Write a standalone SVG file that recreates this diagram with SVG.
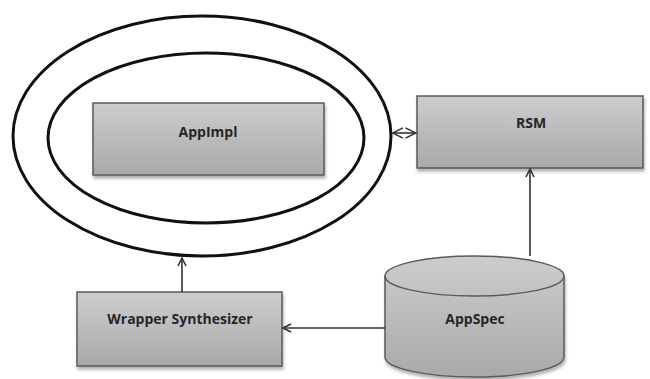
<svg xmlns="http://www.w3.org/2000/svg" width="650" height="379" viewBox="0 0 650 379">
<defs>
<linearGradient id="g" x1="0" y1="0" x2="0" y2="1">
<stop offset="0" stop-color="#cdcdcd"/>
<stop offset="1" stop-color="#a9a9a9"/>
</linearGradient>
<marker id="open" viewBox="0 0 10 10" refX="9" refY="5" markerWidth="10" markerHeight="10" markerUnits="userSpaceOnUse" orient="auto">
<path d="M1,1 L9,5 L1,9" fill="none" stroke="#333" stroke-width="1.6"/>
</marker>
<marker id="half" viewBox="0 0 12 12" refX="11" refY="6" markerWidth="12" markerHeight="12" markerUnits="userSpaceOnUse" orient="auto">
<path d="M0.5,0.8 L11,6 L0.5,11.2" fill="none" stroke="#333" stroke-width="1.5"/>
</marker>
<filter id="sh" x="-10%" y="-10%" width="130%" height="140%">
<feDropShadow dx="1" dy="3" stdDeviation="1.5" flood-color="#000" flood-opacity="0.3"/>
</filter>
</defs>
<style>
.box{fill:url(#g);stroke:#5a5a5a;stroke-width:1.5;filter:url(#sh)}
.lbl{font-family:"Open Sans","Liberation Sans",sans-serif;font-weight:bold;font-size:14px;fill:#262626;text-anchor:middle}
.ring{fill:none;stroke:#111;stroke-width:3}
.conn{fill:none;stroke:#333;stroke-width:1.6}
</style>
<g id="outer-ellipse"><ellipse class="ring" cx="202" cy="136" rx="189" ry="120"/></g>
<g id="inner-ellipse"><ellipse class="ring" cx="206" cy="138" rx="158" ry="85"/></g>
<g id="appimpl"><rect class="box" x="93" y="103" width="231" height="72"/><text class="lbl" x="208" y="137">AppImpl</text></g>
<g id="rsm"><rect class="box" x="417" y="96" width="226" height="72"/><text class="lbl" x="531" y="128">RSM</text></g>
<g id="wrapper"><rect class="box" x="77" y="292" width="205" height="74"/><text class="lbl" x="180" y="324">Wrapper Synthesizer</text></g>
<g id="appspec">
<path class="box" d="M385,276 L385,357 A89.5,20 0 0 0 564,357 L564,276 A89.5,20 0 0 0 385,276 Z"/>
<path d="M385,276 A89.5,20 0 0 0 564,276" fill="none" stroke="#5a5a5a" stroke-width="1.5"/>
<text class="lbl" x="475" y="324">AppSpec</text>
</g>
<g id="connectors">
<line class="conn" x1="404" y1="133" x2="392.5" y2="133" marker-end="url(#half)"/>
<line class="conn" x1="404" y1="133" x2="416" y2="133" marker-end="url(#half)"/>
<line class="conn" x1="530" y1="256" x2="530" y2="169" marker-end="url(#open)"/>
<line class="conn" x1="182" y1="292" x2="182" y2="258" marker-end="url(#open)"/>
<line class="conn" x1="385" y1="328" x2="283" y2="328" marker-end="url(#open)"/>
</g>
</svg>
